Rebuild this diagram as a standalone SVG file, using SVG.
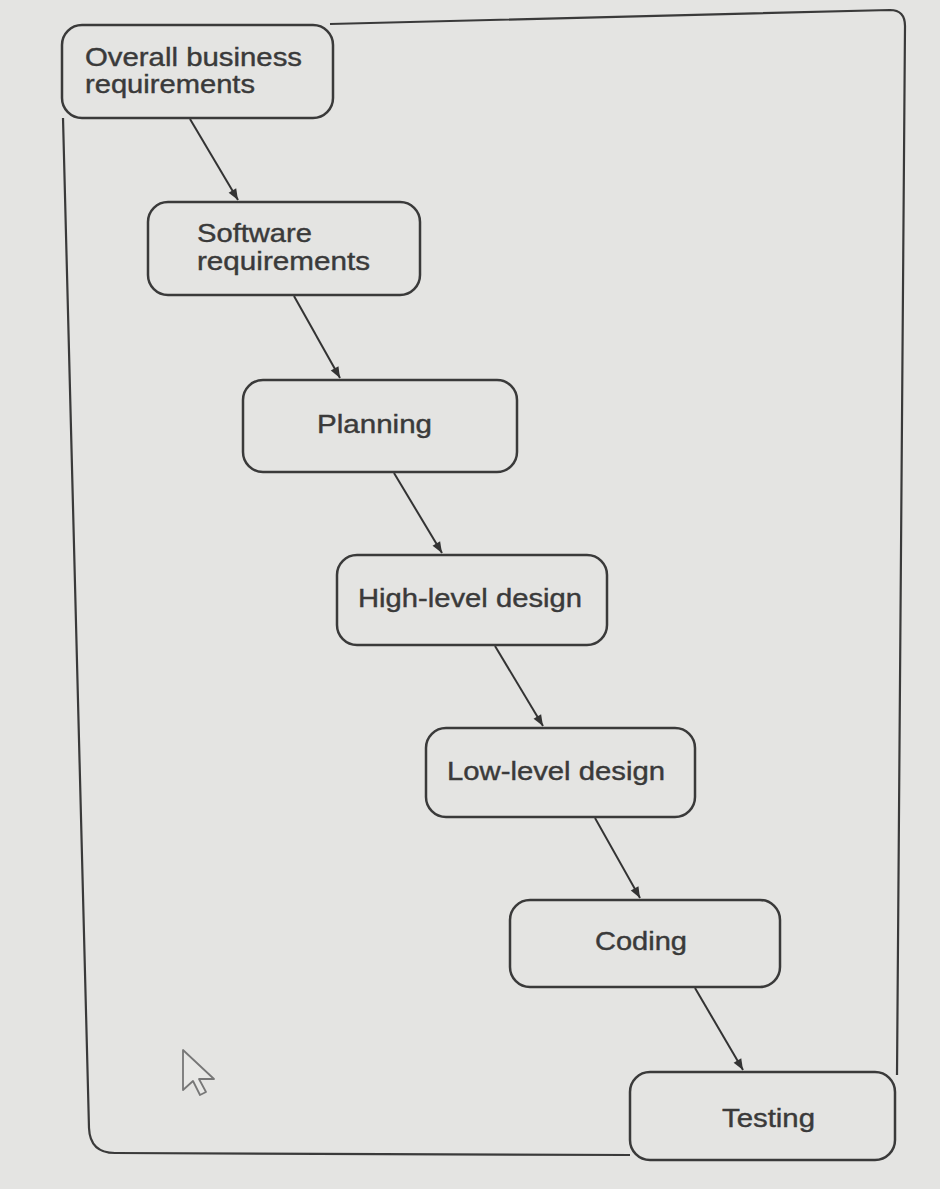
<svg xmlns="http://www.w3.org/2000/svg" width="940" height="1189" viewBox="0 0 940 1189">
<defs>
<marker id="ah" viewBox="0 0 10 10" refX="10" refY="5" markerWidth="14" markerHeight="11" orient="auto" markerUnits="userSpaceOnUse">
<path d="M0,1 L10,5 L0,9 Z" fill="#333"/>
</marker>
<style>
.box{fill:none;stroke:#3a3a3a;stroke-width:2.5}
.frame{fill:none;stroke:#3a3a3a;stroke-width:2.2}
.lbl{font-family:"Liberation Sans",Arial,sans-serif;font-size:25px;fill:#3a3a3a;stroke:#3a3a3a;stroke-width:0.4}
.conn{stroke:#333;stroke-width:2;fill:none;marker-end:url(#ah)}
</style>
</defs>
<rect x="0" y="0" width="940" height="1189" fill="#e4e4e2"/>
<g id="frame">
<path class="frame" d="M63,118 L89,1128 Q90,1153 115,1153 L630,1155"/>
<path class="frame" d="M330,24 L890,10 Q905,10 905,26 L897,1075"/>
</g>
<g id="connectors">
<line class="conn" x1="190" y1="119" x2="238" y2="200"/>
<line class="conn" x1="294" y1="296" x2="340" y2="378"/>
<line class="conn" x1="394" y1="473" x2="442" y2="553"/>
<line class="conn" x1="495" y1="646" x2="543" y2="726"/>
<line class="conn" x1="595" y1="818" x2="640" y2="898"/>
<line class="conn" x1="695" y1="988" x2="743" y2="1070"/>
</g>
<g id="n1">
<rect class="box" x="62" y="25" width="271" height="93" rx="20"/>
<text class="lbl" x="85" y="66" textLength="217" lengthAdjust="spacingAndGlyphs">Overall business</text>
<text class="lbl" x="85" y="93" textLength="170" lengthAdjust="spacingAndGlyphs">requirements</text>
</g>
<g id="n2">
<rect class="box" x="148" y="202" width="272" height="93" rx="20"/>
<text class="lbl" x="197" y="242" textLength="115" lengthAdjust="spacingAndGlyphs">Software</text>
<text class="lbl" x="197" y="270" textLength="173" lengthAdjust="spacingAndGlyphs">requirements</text>
</g>
<g id="n3">
<rect class="box" x="243" y="380" width="274" height="92" rx="20"/>
<text class="lbl" x="317" y="433" textLength="115" lengthAdjust="spacingAndGlyphs">Planning</text>
</g>
<g id="n4">
<rect class="box" x="337" y="555" width="270" height="90" rx="20"/>
<text class="lbl" x="358" y="607" textLength="224" lengthAdjust="spacingAndGlyphs">High-level design</text>
</g>
<g id="n5">
<rect class="box" x="426" y="728" width="269" height="89" rx="20"/>
<text class="lbl" x="447" y="780" textLength="218" lengthAdjust="spacingAndGlyphs">Low-level design</text>
</g>
<g id="n6">
<rect class="box" x="510" y="900" width="270" height="87" rx="20"/>
<text class="lbl" x="595" y="950" textLength="92" lengthAdjust="spacingAndGlyphs">Coding</text>
</g>
<g id="n7">
<rect class="box" x="630" y="1072" width="265" height="88" rx="20"/>
<text class="lbl" x="722" y="1127" textLength="93" lengthAdjust="spacingAndGlyphs">Testing</text>
</g>
<g id="cursor">
<path d="M183,1050 L183,1090 L193,1081 L200,1095 L206,1092 L199,1079 L214,1079 Z" fill="#e8e8e6" stroke="#777" stroke-width="1.8" stroke-linejoin="round"/>
</g>
</svg>
